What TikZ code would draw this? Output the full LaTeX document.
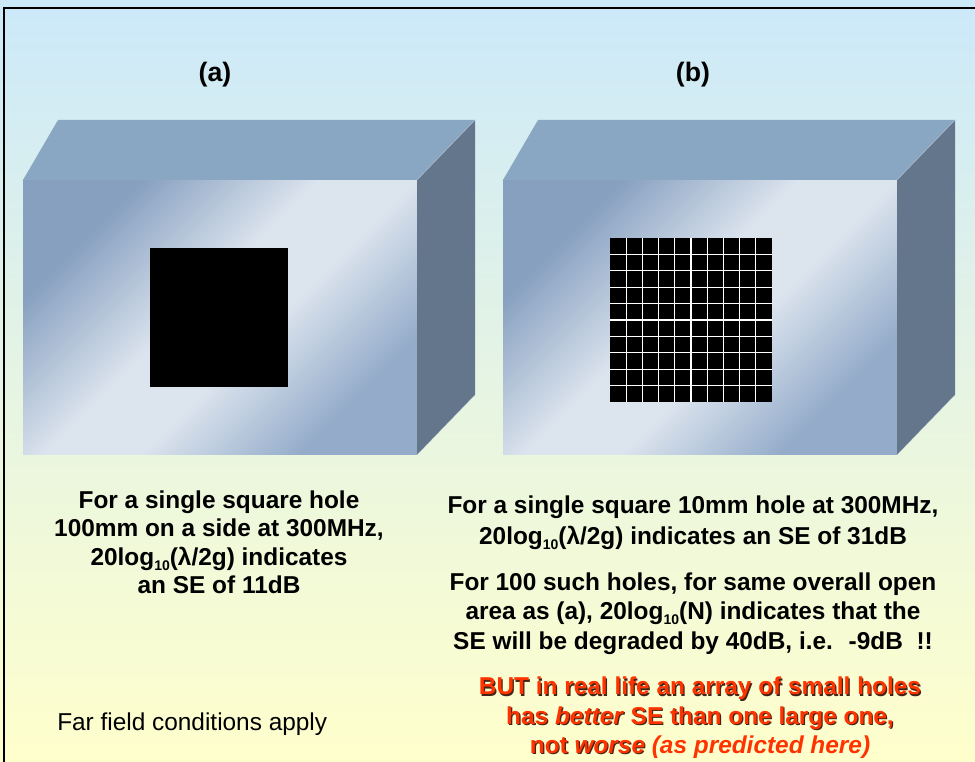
\documentclass[tikz,border=0pt]{standalone}
\usepackage{fontspec}
\setmainfont{Liberation Sans}
\definecolor{bgtop}{RGB}{204,233,250}
\definecolor{bgbot}{RGB}{255,255,204}
\definecolor{topface}{RGB}{137,166,195}
\definecolor{sideface}{RGB}{100,118,140}
\definecolor{fdark}{RGB}{135,160,192}
\definecolor{flight}{RGB}{220,228,238}
\definecolor{fdark2}{RGB}{148,172,202}
\definecolor{warnred}{RGB}{255,51,0}
\definecolor{shadowc}{RGB}{70,35,20}
\pgfdeclareverticalshading{facesh}{100bp}{color(0bp)=(fdark2); color(27bp)=(fdark2); color(44bp)=(flight); color(54bp)=(flight); color(73bp)=(fdark); color(100bp)=(fdark)}
\newcommand\lsub[1]{\raisebox{-3.6pt}{\fontsize{10.5}{12}\selectfont #1}}
\tikzset{
  txt/.style={font=\fontsize{18.3}{21}\selectfont\bfseries, anchor=base, inner sep=0pt},
  redtxt/.style={txt, text=warnred},
  shadowtxt/.style={txt, text=shadowc},
  lbl/.style={font=\fontsize{20}{24}\selectfont\bfseries, anchor=base, inner sep=0pt},
}
\newcommand\enclosure{%
  \shade[shading=facesh, shading angle=45] (23,180) rectangle (417,455);
  \fill[topface] (58,120) -- (475,120) -- (417,180) -- (23,180) -- cycle;
  \fill[sideface] (417,180) -- (475,120) -- (475,395) -- (417,455) -- cycle;
  \draw[white, opacity=0.35, line width=0.5pt] (417,180) -- (475,120);
  \draw[white, opacity=0.35, line width=0.5pt] (417,455) -- (475,395);
}
\begin{document}
\begin{tikzpicture}[x=0.75pt,y=-0.75pt]
\useasboundingbox (0,0) rectangle (975,762);
\clip (0,0) rectangle (975,762);
\shade[top color=bgtop, bottom color=bgbot] (0,0) rectangle (975,762);
\draw[line width=1.5pt] (4,8) rectangle (995,785);

% box (a)
\enclosure
\fill[black] (150,248) rectangle (288,387);
% box (b)
\begin{scope}[shift={(480,0)}]
\enclosure
\end{scope}
\fill[black] (610,238) rectangle (772,402);
\foreach \i in {1,...,9}{
  \draw[white, line width=1pt] ({610+16.2*\i},238) -- ({610+16.2*\i},402);
  \draw[white, line width=1pt] (610,{238+16.4*\i}) -- (772,{238+16.4*\i});
}

\node[lbl] (la) at (215,82) {(a)};
\node[lbl] (lb) at (693,82) {(b)};

% left texts
\node[txt] (a1) at (219,509) {For a single square hole};
\node[txt] (a2) at (219,537) {100mm on a side at 300MHz,};
\node[txt] (a3) at (219,566) {20log\lsub{10}(λ/2g) indicates};
\node[txt] (a4) at (219,594) {an SE of 11dB};
\node[anchor=base west, inner sep=0pt, font=\fontsize{18.3}{21}\selectfont] (far) at (57,730) {Far field conditions apply};

% right texts
\node[txt] (b1) at (693,514) {For a single square 10mm hole at 300MHz,};
\node[txt] (b2) at (693,545) {20log\lsub{10}(λ/2g) indicates an SE of 31dB};
\node[txt] (b3) at (693,591) {For 100 such holes, for same overall open};
\node[txt] (b4) at (693,620) {area as (a), 20log\lsub{10}(N) indicates that the};
\node[txt] (b5) at (693,649) {SE will be degraded by 40dB, i.e.~ -9dB~ !!};

% red texts with shadow
\node[shadowtxt] (s1) at (701.2,696.2) {BUT in real life an array of small holes};
\node[shadowtxt] (s2) at (701.2,725.2) {has \textit{better} SE than one large one,};
\node[shadowtxt] (s3) at (701.2,754.2) {not \textit{worse} \phantom{\textit{(as predicted here)}}};
\node[redtxt] (c1) at (700,695) {BUT in real life an array of small holes};
\node[redtxt] (c2) at (700,724) {has \textit{better} SE than one large one,};
\node[redtxt] (c3) at (700,753) {not \textit{worse} \textit{(as predicted here)}};
\end{tikzpicture}
\end{document}
